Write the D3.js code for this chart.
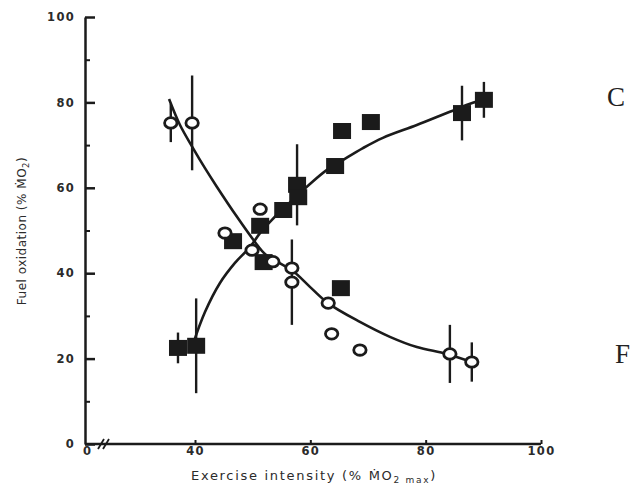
<!DOCTYPE html>
<html>
<head>
<meta charset="utf-8">
<script src="https://cdn.jsdelivr.net/npm/d3@7"></script>
<style>
  html, body { margin: 0; padding: 0; background: #fff; }
  svg { display: block; }
</style>
</head>
<body>
<svg id="chart" width="632" height="488"></svg>
<script>
// Exercise intensity (% of max MO2) and fuel oxidation (% of MO2)

// Fat oxidation (open circles)
const fatX   = [35.8, 39.5, 45.2, 51.3, 49.9, 53.5, 56.8, 56.8, 63.1, 63.7, 68.6, 84.2, 88.0];
const fatY   = [75.2, 75.2, 49.4, 55.0, 45.4, 42.7, 41.2, 37.9, 33.0, 25.8, 22.0, 21.1, 19.2];
const fatErr = [4.5, 11.1, 0, 0, 0, 0, 0, 10.0, 0, 0, 0, 6.8, 4.6];

// Carbohydrate oxidation (filled squares)
const carbX   = [37.05, 40.2, 46.6, 51.3, 51.9, 55.3, 57.7, 57.9, 64.3, 65.5, 70.5, 86.3, 90.1, 65.3];
const carbY   = [22.5, 23.0, 47.5, 51.1, 42.6, 54.8, 60.7, 57.8, 65.1, 73.3, 75.4, 77.5, 80.6, 36.5];
const carbErr = [3.6, 11.1, 0, 0, 0, 0, 9.5, 0, 0, 0, 0, 6.4, 4.2, 0];

// Fitted trend lines
const fatCurveX = [35.5, 37.4, 39.65, 41.73, 43.81, 47.28, 50.4, 52.13, 54.38, 56.98, 59.93, 63.05, 68.6, 73.8, 78.47, 83.67, 88.0];
const fatCurveY = [80.8, 74.7, 69.3, 64.6, 60.2, 53.2, 47.3, 44.5, 42.6, 40.5, 36.8, 33.0, 28.6, 25.1, 22.7, 21.1, 19.2];
const carbCurveX = [39.65, 41.73, 44.33, 46.93, 49.53, 51.27, 53.34, 55.6, 57.85, 59.93, 62.88, 65.65, 69.12, 72.58, 78.47, 84.19, 88.18, 90.43];
const carbCurveY = [23.4, 30.9, 37.7, 42.4, 46.1, 49.4, 52.5, 55.5, 58.3, 60.9, 64.2, 66.5, 69.3, 71.7, 74.7, 77.8, 79.9, 80.8];

// Axis ticks
const xTicks = [40, 60, 80, 100];
const yTicks = [0, 20, 40, 60, 80, 100];
const yMinorTicks = [10, 30, 50, 70, 90];
const xBreakLabel = "0";

// Side labels
const sideLabels = [{ text: "C", value: 80 }, { text: "F", value: 20 }];

const ink = "#1b1b1b";
const svg = d3.select("#chart");

const x = d3.scaleLinear().domain([40, 100]).range([195, 541]);
const y = d3.scaleLinear().domain([0, 100]).range([444, 17]);
const yAxisX = 85;

const tickFont = g => g.selectAll("text")
  .attr("font-family", "DejaVu Sans, Liberation Sans, Arial, sans-serif")
  .attr("font-weight", "bold")
  .attr("font-size", 11.5)
  .attr("letter-spacing", "1.3px")
  .attr("fill", "#2b2b2b");

// Y axis, ticks pointing inward
const gy = svg.append("g").attr("transform", `translate(${yAxisX},0)`)
  .call(d3.axisLeft(y).tickValues(yTicks).tickSizeInner(-10).tickSizeOuter(0).tickPadding(10))
  .call(tickFont);
gy.select(".domain").attr("stroke", ink).attr("stroke-width", 2.5);
gy.selectAll(".tick line").attr("stroke", ink).attr("stroke-width", 2.5);

const gyMinor = svg.append("g").attr("transform", `translate(${yAxisX},0)`)
  .call(d3.axisLeft(y).tickValues(yMinorTicks).tickSizeInner(-5).tickSizeOuter(0).tickFormat(""));
gyMinor.select(".domain").remove();
gyMinor.selectAll(".tick line").attr("stroke", ink).attr("stroke-width", 2);

// X axis with a break between 0 and 40
const gx = svg.append("g").attr("transform", `translate(0,${y(0)})`)
  .call(d3.axisBottom(x).tickValues(xTicks).tickSizeInner(-4).tickSizeOuter(0).tickPadding(3))
  .call(tickFont);
gx.select(".domain").remove();
gx.selectAll(".tick line").attr("stroke", ink).attr("stroke-width", 2);

svg.append("line")
  .attr("x1", yAxisX).attr("x2", x(100))
  .attr("y1", y(0)).attr("y2", y(0))
  .attr("stroke", ink).attr("stroke-width", 2.5);

svg.append("text")
  .attr("x", yAxisX + 2).attr("y", y(0) + 3).attr("dy", "0.71em")
  .attr("text-anchor", "middle")
  .attr("font-family", "DejaVu Sans, Liberation Sans, Arial, sans-serif")
  .attr("font-weight", "bold").attr("font-size", 11.5).attr("fill", "#2b2b2b")
  .text(xBreakLabel);

// Break marks "//"
const bx = yAxisX + 13, by = y(0);
svg.append("path")
  .attr("d", `M${bx},${by + 5}L${bx + 6},${by - 5}M${bx + 5},${by + 5}L${bx + 11},${by - 5}`)
  .attr("stroke", ink).attr("stroke-width", 1.8).attr("fill", "none");

// Axis titles
const xTitle = svg.append("text")
  .attr("x", 314).attr("y", 480)
  .attr("text-anchor", "middle")
  .attr("font-family", "DejaVu Sans, Liberation Sans, Arial, sans-serif")
  .attr("font-size", 13).attr("letter-spacing", "1.7px").attr("fill", "#2b2b2b");
xTitle.append("tspan").text("Exercise intensity (% \u1E40O");
xTitle.append("tspan").attr("font-size", 9).attr("dy", 3).text("2 max");
xTitle.append("tspan").attr("dy", -3).text(")");

const yTitle = svg.append("text")
  .attr("transform", "translate(26,231) rotate(-90)")
  .attr("text-anchor", "middle")
  .attr("font-family", "DejaVu Sans, Liberation Sans, Arial, sans-serif")
  .attr("font-size", 12).attr("letter-spacing", "0.5px").attr("fill", "#2b2b2b");
yTitle.append("tspan").text("Fuel oxidation (% \u1E40O");
yTitle.append("tspan").attr("font-size", 8.5).attr("dy", 3).text("2");
yTitle.append("tspan").attr("dy", -3).text(")");

// Trend lines
const line = d3.line().x(d => x(d[0])).y(d => y(d[1])).curve(d3.curveCatmullRom.alpha(0.5));
svg.append("path")
  .datum(fatCurveX.map((v, i) => [v, fatCurveY[i]]))
  .attr("d", line).attr("fill", "none").attr("stroke", ink).attr("stroke-width", 2.6);
svg.append("path")
  .datum(carbCurveX.map((v, i) => [v, carbCurveY[i]]))
  .attr("d", line).attr("fill", "none").attr("stroke", ink).attr("stroke-width", 2.6);

// Error bars
const carbPts = carbX.map((v, i) => ({ x: v, y: carbY[i], e: carbErr[i] }));
const fatPts = fatX.map((v, i) => ({ x: v, y: fatY[i], e: fatErr[i] }));
svg.append("g").selectAll("line")
  .data(carbPts.concat(fatPts).filter(d => d.e > 0))
  .join("line")
  .attr("x1", d => x(d.x)).attr("x2", d => x(d.x))
  .attr("y1", d => y(d.y + d.e)).attr("y2", d => y(d.y - d.e))
  .attr("stroke", ink).attr("stroke-width", 2.4);

// Carbohydrate squares
const sqW = 18, sqH = 16;
svg.append("g").selectAll("rect")
  .data(carbPts)
  .join("rect")
  .attr("x", d => x(d.x) - sqW / 2).attr("y", d => y(d.y) - sqH / 2)
  .attr("width", sqW).attr("height", sqH)
  .attr("fill", ink);

// Fat circles
svg.append("g").selectAll("ellipse")
  .data(fatPts)
  .join("ellipse")
  .attr("cx", d => x(d.x)).attr("cy", d => y(d.y))
  .attr("rx", 6.2).attr("ry", 5.2)
  .attr("fill", "#fff").attr("stroke", ink).attr("stroke-width", 2.8);

// Side labels
svg.append("g").selectAll("text")
  .data(sideLabels)
  .join("text")
  .attr("x", (d, i) => i === 0 ? 607 : 615)
  .attr("y", d => y(d.value) + 4)
  .attr("font-family", "Liberation Serif, Times New Roman, serif")
  .attr("font-size", 27).attr("fill", "#222")
  .text(d => d.text);
</script>
</body>
</html>
